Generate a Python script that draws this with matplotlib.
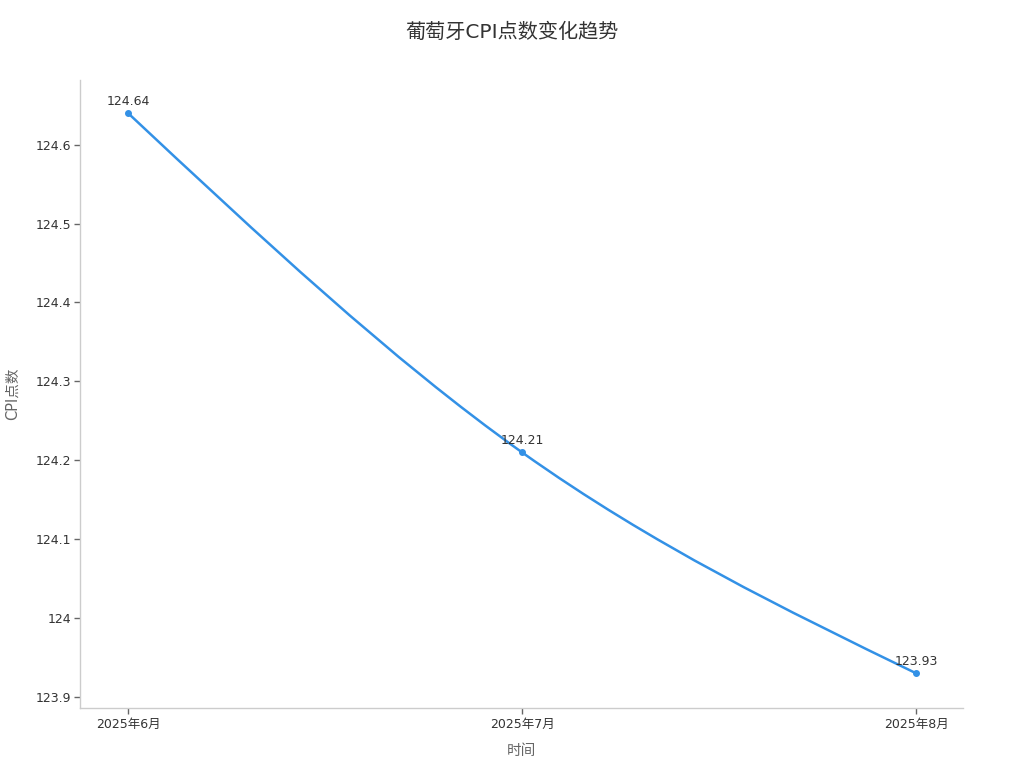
import matplotlib
matplotlib.use("Agg")
import matplotlib.pyplot as plt
from matplotlib.path import Path
from matplotlib.patches import PathPatch
from matplotlib.ticker import FuncFormatter
import numpy as np

plt.rcParams['font.family'] = ['DejaVu Sans', 'Noto Sans CJK SC']

months = ["2025年6月", "2025年7月", "2025年8月"]
cpi = [124.64, 124.21, 123.93]
yticks = [123.9, 124.0, 124.1, 124.2, 124.3, 124.4, 124.5, 124.6]

title = "葡萄牙CPI点数变化趋势"
xlabel = "时间"
ylabel = "CPI点数"

line_color = "#3391e6"
text_color = "#333333"
axis_color = "#cccccc"

fig = plt.figure(figsize=(10.24, 7.68), dpi=100)
ax = fig.add_axes([80/1024, 1-708/768, (963-80)/1024, (708-80)/768])

x = np.arange(len(months), dtype=float)
y = np.array(cpi, dtype=float)
ax.set_xlim(-0.122, 2.119)
ax.set_ylim(123.886, 124.682)


def monotone_tangents(xs, ys):
    # monotone-x cubic tangents (d3 curveMonotoneX style)
    n = len(xs)
    h = np.diff(xs)
    s = np.diff(ys) / h
    m = np.zeros(n)
    for i in range(1, n - 1):
        p = (s[i-1] * h[i] + s[i] * h[i-1]) / (h[i-1] + h[i])
        m[i] = (np.sign(s[i-1]) + np.sign(s[i])) * min(abs(s[i-1]), abs(s[i]), 0.5 * abs(p))
    m[0] = (3 * s[0] - m[1]) / 2 if n > 2 else s[0]
    m[-1] = (3 * s[-1] - m[-2]) / 2 if n > 2 else s[-1]
    return m


m = monotone_tangents(x, y)
verts = [(x[0], y[0])]
codes = [Path.MOVETO]
for i in range(len(x) - 1):
    h = x[i+1] - x[i]
    verts += [(x[i] + h/3, y[i] + m[i]*h/3),
              (x[i+1] - h/3, y[i+1] - m[i+1]*h/3),
              (x[i+1], y[i+1])]
    codes += [Path.CURVE4] * 3
patch = PathPatch(Path(verts, codes), facecolor='none', edgecolor=line_color,
                  lw=1.8, zorder=2, capstyle='round', joinstyle='round')
ax.add_patch(patch)
ax.plot(x, y, linestyle='none', marker='o', ms=4, color=line_color, zorder=3)

for xi, yi in zip(x, y):
    ax.annotate(f"{yi:.2f}", (xi, yi), xytext=(0, 8.6), textcoords='offset points',
                ha='center', va='center', fontsize=9, color=text_color)

ax.set_xticks(x)
ax.set_xticklabels(months)
ax.set_yticks(yticks)
ax.yaxis.set_major_formatter(FuncFormatter(lambda v, p: f"{round(v, 1):g}"))

for s in ['top', 'right']:
    ax.spines[s].set_visible(False)
for s in ['left', 'bottom']:
    ax.spines[s].set_color(axis_color)
    ax.spines[s].set_linewidth(1)
ax.tick_params(axis='both', colors='#666666', labelcolor=text_color,
               labelsize=9, length=4, width=1)
ax.tick_params(axis='y', pad=2.5)
ax.tick_params(axis='x', pad=3.5)

ax.set_xlabel(xlabel, fontsize=10.5, color='#666666', va='center')
ax.xaxis.set_label_coords(0.5, (708-750)/628)
ax.set_ylabel(ylabel, fontsize=10.5, color='#666666', va='center')
ax.yaxis.set_label_coords((12-80)/883, 0.5)
fig.text(0.5, 1 - 32/768, title, ha='center', va='center', fontsize=14.5,
         color=text_color)

fig.savefig("out.png", dpi=100)
